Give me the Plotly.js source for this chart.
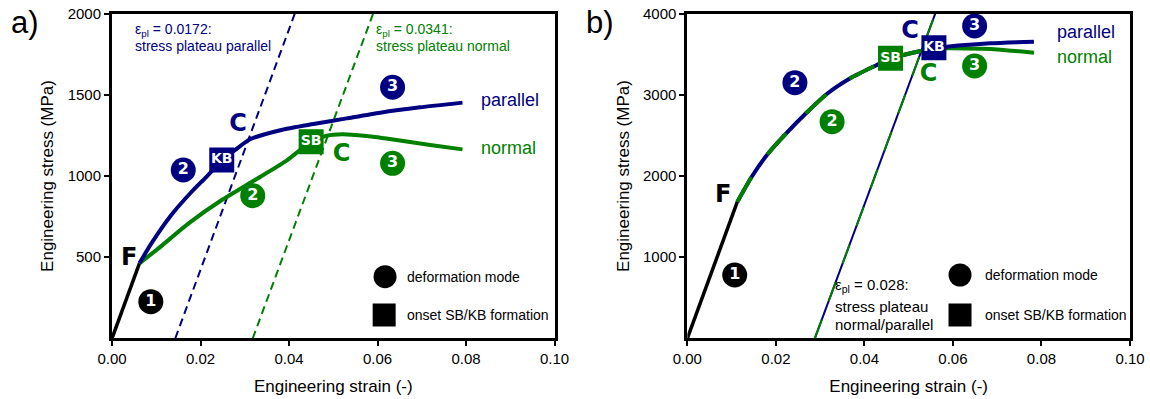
<!DOCTYPE html>
<html>
<head>
<meta charset="utf-8">
<script src="https://cdn.plot.ly/plotly-3.0.1.min.js"></script>
<style>html,body{margin:0;padding:0;background:#fff;}#chart{width:1150px;height:399px;}</style>
</head>
<body>
<div id="chart"></div>
<script>
// ---------- Panel a) data ----------
const elasticStrainA = [0, 0.0062];
const elasticStressA = [0, 462];
const parallelStrainA = [0.0062, 0.0089, 0.0134, 0.0180, 0.0210, 0.0224, 0.0248, 0.0278, 0.0312, 0.0385, 0.0455, 0.0530, 0.0606, 0.0696, 0.0792];
const parallelStressA = [462, 585, 760, 903, 986, 1026, 1099, 1160, 1226, 1285, 1320, 1355, 1390, 1423, 1452];
const normalStrainA = [0.0062, 0.0105, 0.0173, 0.0248, 0.0323, 0.0391, 0.0450, 0.0485, 0.0520, 0.0575, 0.0643, 0.0719, 0.0792];
const normalStressA = [462, 554, 708, 852, 975, 1088, 1211, 1248, 1257, 1246, 1222, 1191, 1164];
const plateauParStrainA = [0.0143, 0.0413];
const plateauParStressA = [0, 2000];
const plateauNorStrainA = [0.0318, 0.0590];
const plateauNorStressA = [0, 2000];

// ---------- Panel b) data ----------
const elasticStrainB = [0, 0.0113];
const elasticStressB = [0, 1683];
const sharedStrainB = [0.0113, 0.01455, 0.0183, 0.0225, 0.0268, 0.0315, 0.0368, 0.0428, 0.0459, 0.0488, 0.0530, 0.0557];
const sharedStressB = [1683, 1991, 2280, 2534, 2773, 3010, 3204, 3368, 3450, 3491, 3544, 3575];
const parallelTailStrainB = [0.0557, 0.0586, 0.0684, 0.0783];
const parallelTailStressB = [3575, 3593, 3635, 3655];
const normalTailStrainB = [0.0557, 0.0586, 0.0684, 0.0783];
const normalTailStressB = [3575, 3574, 3565, 3519];
const plateauStrainB = [0.0288, 0.0560];
const plateauStressB = [0, 4000];

// ---------- labels (mode circles, onset squares, letters) ----------
const modeLabelsA = {x: [0.00877, 0.0161, 0.0318, 0.0634, 0.0634], y: [226, 1037, 879, 1547, 1078], text: ['1','2','2','3','3']};
const onsetLabelsA = {x: [0.0248, 0.0450], y: [1099, 1211], text: ['KB','SB']};
const letterLabelsA = {x: [0.0039, 0.0285, 0.0519], y: [487, 1314, 1129], text: ['F','C','C']};
const modeLabelsB = {x: [0.0107, 0.0243, 0.0327, 0.0649, 0.0649], y: [780, 3150, 2669, 3849, 3356], text: ['1','2','2','3','3']};
const onsetLabelsB = {x: [0.0459, 0.0557], y: [3450, 3581], text: ['SB','KB']};
const letterLabelsB = {x: [0.0081, 0.0503, 0.0545], y: [1753, 3778, 3245], text: ['F','C','C']};

const xTickVals = [0, 0.02, 0.04, 0.06, 0.08, 0.10];
const xTickText = ['0.00','0.02','0.04','0.06','0.08','0.10'];
const yTickValsA = [500, 1000, 1500, 2000];
const yTickTextA = ['500', '1000', '1500', '2000'];
const yTickValsB = [1000, 2000, 3000, 4000];
const yTickTextB = ['1000', '2000', '3000', '4000'];

const NAVY = '#000080';
const GREEN = '#008000';
const BLACK = '#000000';
const FONT = 'Liberation Sans, Arial, sans-serif';
const BOLD = 'DejaVu Sans, sans-serif';

function line(x, y, color, width, dash, ax, smooth) {
  return {x: x, y: y, mode: 'lines', type: 'scatter', hoverinfo: 'skip',
    line: {color: color, width: width, dash: dash || 'solid', shape: smooth ? 'spline' : 'linear', smoothing: 0.6},
    xaxis: ax ? 'x2' : 'x', yaxis: ax ? 'y2' : 'y'};
}
function badges(lbl, colors, symbol, size, fsize, ax) {
  return {x: lbl.x, y: lbl.y, text: lbl.text, mode: 'markers+text', type: 'scatter', hoverinfo: 'skip',
    textposition: 'middle center',
    marker: {symbol: symbol, size: size, color: colors, opacity: 1, line: {width: 0}},
    textfont: {family: BOLD, size: fsize, color: '#ffffff', weight: 'bold'},
    xaxis: ax ? 'x2' : 'x', yaxis: ax ? 'y2' : 'y'};
}
function letters(lbl, colors, ax) {
  return {x: lbl.x, y: lbl.y, text: lbl.text, mode: 'text', type: 'scatter', hoverinfo: 'skip',
    textposition: 'middle center',
    textfont: {family: BOLD, size: 24, color: colors, weight: 'bold'},
    xaxis: ax ? 'x2' : 'x', yaxis: ax ? 'y2' : 'y'};
}
function legendMarks(ax, xs, ys) {
  return {x: xs, y: ys, mode: 'markers', type: 'scatter', hoverinfo: 'skip',
    marker: {symbol: ['circle','square'], size: 23, color: BLACK, opacity: 1, line: {width: 0}},
    xaxis: ax ? 'x2' : 'x', yaxis: ax ? 'y2' : 'y'};
}

const traces = [
  // panel a
  line(plateauParStrainA, plateauParStressA, NAVY, 2, '8px,5px', false),
  line(plateauNorStrainA, plateauNorStressA, GREEN, 2, '8px,5px', false),
  line(elasticStrainA, elasticStressA, BLACK, 3.5, null, false),
  line(normalStrainA, normalStressA, GREEN, 4, null, false, true),
  line(parallelStrainA, parallelStressA, NAVY, 4, null, false, true),
  badges(modeLabelsA, [BLACK, NAVY, GREEN, NAVY, GREEN], 'circle', 25, 16, false),
  badges(onsetLabelsA, [NAVY, GREEN], 'square', 25, 14, false),
  letters(letterLabelsA, [BLACK, NAVY, GREEN], false),
  legendMarks(false, [0.0617, 0.0615], [380, 144]),
  // panel b
  line(plateauStrainB, plateauStressB, NAVY, 2, null, true),
  line(plateauStrainB, plateauStressB, GREEN, 2, '20px,20px', true),
  line(elasticStrainB, elasticStressB, BLACK, 3.5, null, true),
  line(normalTailStrainB, normalTailStressB, GREEN, 4, null, true, true),
  line(parallelTailStrainB, parallelTailStressB, NAVY, 4, null, true, true),
  line(sharedStrainB, sharedStressB, NAVY, 4, null, true, true),
  line(sharedStrainB, sharedStressB, GREEN, 4, '28px,28px', true, true),
  badges(modeLabelsB, [BLACK, NAVY, GREEN, NAVY, GREEN], 'circle', 25, 16, true),
  badges(onsetLabelsB, [GREEN, NAVY], 'square', 25, 14, true),
  letters(letterLabelsB, [BLACK, NAVY, GREEN], true),
  legendMarks(true, [0.0616, 0.0616], [780, 287])
];

function xaxis(domain, anchor) {
  return {domain: domain, anchor: anchor, range: [0, 0.10], tickvals: xTickVals, ticktext: xTickText,
    ticks: 'outside', ticklen: 5, tickwidth: 2, tickcolor: BLACK,
    showline: true, linewidth: 3, linecolor: BLACK, mirror: true, showgrid: false, zeroline: false,
    tickfont: {family: FONT, size: 15, color: BLACK},
    title: {text: 'Engineering strain (-)', font: {family: FONT, size: 17, color: BLACK}, standoff: 14}};
}
function yaxis(domain, anchor, range, tv, tt) {
  return {domain: domain, anchor: anchor, range: range, tickvals: tv, ticktext: tt,
    ticks: 'outside', ticklen: 5, tickwidth: 2, tickcolor: BLACK,
    showline: true, linewidth: 3, linecolor: BLACK, mirror: true, showgrid: false, zeroline: false,
    tickfont: {family: FONT, size: 15, color: BLACK},
    title: {text: 'Engineering stress (MPa)', font: {family: FONT, size: 17, color: BLACK}, standoff: 10}};
}

const yDom = [0.1521, 0.9657];
const layout = {
  width: 1150, height: 399,
  margin: {l: 0, r: 0, t: 0, b: 0},
  paper_bgcolor: '#ffffff', plot_bgcolor: '#ffffff',
  showlegend: false,
  font: {family: FONT, color: BLACK},
  xaxis: xaxis([0.0974, 0.4822], 'y'),
  yaxis: yaxis(yDom, 'x', [0, 2000], yTickValsA, yTickTextA),
  xaxis2: xaxis([0.5977, 0.9826], 'y2'),
  yaxis2: yaxis(yDom, 'x2', [0, 4000], yTickValsB, yTickTextB),
  annotations: [
    {xref: 'paper', yref: 'paper', x: 0.008, y: 0.943, xanchor: 'left', yanchor: 'middle', showarrow: false,
      text: 'a)', font: {family: FONT, size: 31, color: BLACK}},
    {xref: 'paper', yref: 'paper', x: 0.508, y: 0.943, xanchor: 'left', yanchor: 'middle', showarrow: false,
      text: 'b)', font: {family: FONT, size: 31, color: BLACK}},
    // panel a texts
    {xref: 'x', yref: 'y', x: 0.0047, y: 1900, xanchor: 'left', yanchor: 'middle', showarrow: false,
      text: 'ε<sub>pl</sub> = 0.0172:', font: {family: FONT, size: 14, color: NAVY}},
    {xref: 'x', yref: 'y', x: 0.0047, y: 1800, xanchor: 'left', yanchor: 'middle', showarrow: false,
      text: 'stress plateau parallel', font: {family: FONT, size: 14, color: NAVY}},
    {xref: 'x', yref: 'y', x: 0.0592, y: 1900, xanchor: 'left', yanchor: 'middle', showarrow: false,
      text: 'ε<sub>pl</sub> = 0.0341:', font: {family: FONT, size: 14, color: GREEN}},
    {xref: 'x', yref: 'y', x: 0.0592, y: 1800, xanchor: 'left', yanchor: 'middle', showarrow: false,
      text: 'stress plateau normal', font: {family: FONT, size: 14, color: GREEN}},
    {xref: 'x', yref: 'y', x: 0.0829, y: 1468, xanchor: 'left', yanchor: 'middle', showarrow: false,
      text: 'parallel', font: {family: FONT, size: 18, color: NAVY}},
    {xref: 'x', yref: 'y', x: 0.0829, y: 1173, xanchor: 'left', yanchor: 'middle', showarrow: false,
      text: 'normal', font: {family: FONT, size: 18, color: GREEN}},
    {xref: 'x', yref: 'y', x: 0.0662, y: 380, xanchor: 'left', yanchor: 'middle', showarrow: false,
      text: 'deformation mode', font: {family: FONT, size: 14, color: BLACK}},
    {xref: 'x', yref: 'y', x: 0.0662, y: 144, xanchor: 'left', yanchor: 'middle', showarrow: false,
      text: 'onset SB/KB formation', font: {family: FONT, size: 14, color: BLACK}},
    // panel b texts
    {xref: 'x2', yref: 'y2', x: 0.0330, y: 655, xanchor: 'left', yanchor: 'middle', showarrow: false,
      text: 'ε<sub>pl</sub> = 0.028:', font: {family: FONT, size: 15, color: BLACK}},
    {xref: 'x2', yref: 'y2', x: 0.0330, y: 390, xanchor: 'left', yanchor: 'middle', showarrow: false,
      text: 'stress plateau', font: {family: FONT, size: 15, color: BLACK}},
    {xref: 'x2', yref: 'y2', x: 0.0330, y: 165, xanchor: 'left', yanchor: 'middle', showarrow: false,
      text: 'normal/parallel', font: {family: FONT, size: 15, color: BLACK}},
    {xref: 'x2', yref: 'y2', x: 0.0831, y: 3774, xanchor: 'left', yanchor: 'middle', showarrow: false,
      text: 'parallel', font: {family: FONT, size: 18, color: NAVY}},
    {xref: 'x2', yref: 'y2', x: 0.0831, y: 3466, xanchor: 'left', yanchor: 'middle', showarrow: false,
      text: 'normal', font: {family: FONT, size: 18, color: GREEN}},
    {xref: 'x2', yref: 'y2', x: 0.0667, y: 780, xanchor: 'left', yanchor: 'middle', showarrow: false,
      text: 'deformation mode', font: {family: FONT, size: 14, color: BLACK}},
    {xref: 'x2', yref: 'y2', x: 0.0667, y: 287, xanchor: 'left', yanchor: 'middle', showarrow: false,
      text: 'onset SB/KB formation', font: {family: FONT, size: 14, color: BLACK}}
  ]
};

Plotly.newPlot('chart', traces, layout, {displayModeBar: false, staticPlot: true});
</script>
</body>
</html>
